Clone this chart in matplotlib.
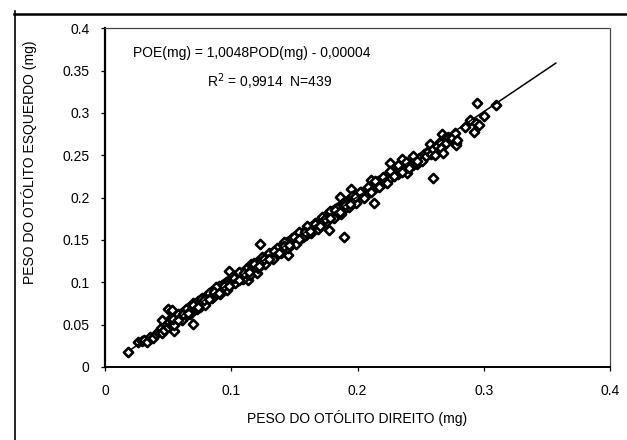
import numpy as np
import matplotlib
matplotlib.use("Agg")
import matplotlib.pyplot as plt
from matplotlib.lines import Line2D
from matplotlib.ticker import FuncFormatter

plt.rcParams['font.family'] = ['Liberation Sans', 'DejaVu Sans']

# === Data (right otolith weight, left otolith weight) ===
pod_low = [0.018, 0.026, 0.029, 0.031, 0.033, 0.036, 0.038, 0.040, 0.042, 0.044,
           0.045, 0.045, 0.047, 0.048, 0.050, 0.050, 0.053]
poe_low = [0.018, 0.030, 0.031, 0.032, 0.030, 0.035, 0.034, 0.039, 0.041, 0.046,
           0.055, 0.040, 0.044, 0.050, 0.069, 0.047, 0.067]

pod_b = [0.051, 0.052, 0.053, 0.054, 0.055, 0.055, 0.056, 0.057, 0.058, 0.059,
         0.060, 0.060, 0.061, 0.062, 0.063, 0.063, 0.064, 0.065, 0.066, 0.066,
         0.067, 0.068, 0.069, 0.070, 0.070, 0.071, 0.072, 0.072, 0.073, 0.074,
         0.075, 0.075, 0.076, 0.077, 0.078, 0.078, 0.079, 0.080, 0.080, 0.081,
         0.082, 0.083, 0.084, 0.084, 0.085, 0.086, 0.087, 0.088, 0.088, 0.089,
         0.090, 0.090, 0.091, 0.092, 0.093, 0.094, 0.094, 0.095, 0.096, 0.097,
         0.098, 0.098, 0.099, 0.100]
poe_b = [0.053, 0.049, 0.057, 0.052, 0.043, 0.058, 0.054, 0.060, 0.055, 0.062,
         0.058, 0.063, 0.057, 0.065, 0.060, 0.066, 0.062, 0.068, 0.063, 0.070,
         0.065, 0.071, 0.066, 0.051, 0.073, 0.068, 0.076, 0.070, 0.072, 0.078,
         0.071, 0.079, 0.074, 0.081, 0.075, 0.082, 0.077, 0.084, 0.078, 0.080,
         0.086, 0.081, 0.088, 0.083, 0.090, 0.084, 0.091, 0.086, 0.093, 0.088,
         0.095, 0.089, 0.093, 0.090, 0.097, 0.092, 0.098, 0.094, 0.100, 0.095,
         0.113, 0.101, 0.097, 0.103]

pod_c = [0.101, 0.102, 0.103, 0.104, 0.105, 0.106, 0.107, 0.108, 0.109, 0.110,
         0.111, 0.112, 0.113, 0.113, 0.114, 0.115, 0.116, 0.117, 0.118, 0.119,
         0.120, 0.120, 0.121, 0.122, 0.123, 0.123, 0.124, 0.125, 0.126, 0.127,
         0.128, 0.129, 0.130, 0.131, 0.132, 0.133, 0.134, 0.135, 0.136, 0.137,
         0.138, 0.139, 0.140, 0.141, 0.142, 0.143, 0.144, 0.145, 0.145, 0.146,
         0.147, 0.148, 0.149, 0.150, 0.151, 0.152, 0.153, 0.154, 0.155, 0.156,
         0.157, 0.158, 0.159, 0.160, 0.161, 0.162, 0.163, 0.164, 0.165, 0.166,
         0.167, 0.168, 0.169, 0.170, 0.171, 0.172, 0.173, 0.174, 0.175, 0.176,
         0.177, 0.177, 0.178, 0.179, 0.180, 0.181, 0.182, 0.183, 0.184, 0.185,
         0.186, 0.186, 0.187, 0.188, 0.189, 0.189, 0.190, 0.191, 0.192, 0.193,
         0.194, 0.195, 0.195, 0.196, 0.197, 0.198, 0.199, 0.200]
poe_c = [0.099, 0.105, 0.101, 0.107, 0.103, 0.108, 0.104, 0.111, 0.106, 0.112,
         0.108, 0.116, 0.103, 0.111, 0.118, 0.113, 0.122, 0.115, 0.120, 0.117,
         0.111, 0.124, 0.119, 0.125, 0.145, 0.121, 0.127, 0.123, 0.129, 0.125,
         0.131, 0.127, 0.133, 0.129, 0.135, 0.131, 0.137, 0.133, 0.138, 0.135,
         0.140, 0.137, 0.143, 0.139, 0.144, 0.141, 0.147, 0.132, 0.144, 0.149,
         0.145, 0.150, 0.147, 0.153, 0.149, 0.154, 0.151, 0.157, 0.152, 0.158,
         0.155, 0.160, 0.156, 0.162, 0.159, 0.164, 0.160, 0.166, 0.163, 0.168,
         0.164, 0.170, 0.166, 0.173, 0.168, 0.175, 0.170, 0.177, 0.172, 0.180,
         0.162, 0.175, 0.182, 0.177, 0.184, 0.179, 0.186, 0.181, 0.188, 0.183,
         0.201, 0.190, 0.185, 0.192, 0.153, 0.187, 0.193, 0.189, 0.196, 0.191,
         0.197, 0.210, 0.193, 0.199, 0.195, 0.201, 0.197, 0.203]

pod_d = [0.202, 0.203, 0.205, 0.206, 0.207, 0.209, 0.210, 0.211, 0.212, 0.213,
         0.213, 0.215, 0.216, 0.217, 0.219, 0.220, 0.221, 0.222, 0.224, 0.226,
         0.226, 0.227, 0.229, 0.230, 0.232, 0.233, 0.235, 0.235, 0.236, 0.238,
         0.239, 0.240, 0.241, 0.243, 0.244, 0.246, 0.247, 0.249, 0.251, 0.253,
         0.254, 0.256, 0.257, 0.258, 0.260, 0.260, 0.261, 0.263, 0.265, 0.266,
         0.267, 0.268, 0.269, 0.270, 0.272, 0.274, 0.275, 0.277, 0.278, 0.278,
         0.279]
poe_d = [0.199, 0.206, 0.202, 0.208, 0.205, 0.211, 0.207, 0.221, 0.210, 0.194,
         0.215, 0.212, 0.219, 0.214, 0.221, 0.217, 0.224, 0.219, 0.226, 0.241,
         0.223, 0.228, 0.226, 0.231, 0.228, 0.234, 0.245, 0.231, 0.237, 0.234,
         0.229, 0.240, 0.236, 0.242, 0.238, 0.244, 0.240, 0.247, 0.243, 0.251,
         0.249, 0.255, 0.263, 0.252, 0.223, 0.257, 0.250, 0.261, 0.266, 0.259,
         0.275, 0.253, 0.270, 0.265, 0.272, 0.268, 0.270, 0.276, 0.265, 0.262,
         0.268]

pod_high = [0.285, 0.289, 0.292, 0.294, 0.295, 0.296, 0.300, 0.310]
poe_high = [0.283, 0.292, 0.277, 0.288, 0.312, 0.286, 0.296, 0.309]

# edges of the dense band
pod_edge = [0.052, 0.055, 0.058, 0.061, 0.064, 0.067, 0.070, 0.073, 0.076, 0.079,
            0.082, 0.085, 0.088, 0.091, 0.094, 0.097, 0.100, 0.103, 0.106, 0.109,
            0.112, 0.115, 0.118, 0.121, 0.124, 0.127, 0.130, 0.133, 0.136, 0.139,
            0.142, 0.145, 0.148, 0.151, 0.154, 0.157, 0.160, 0.163, 0.166, 0.169,
            0.172, 0.175, 0.178, 0.181, 0.184, 0.187, 0.190, 0.193, 0.196, 0.199,
            0.202, 0.205, 0.208, 0.211, 0.214, 0.217, 0.220, 0.223, 0.226, 0.229,
            0.232, 0.235, 0.238, 0.241, 0.244, 0.247]
poe_edge = [0.058, 0.050, 0.062, 0.055, 0.069, 0.063, 0.076, 0.068, 0.080, 0.073,
            0.087, 0.081, 0.094, 0.086, 0.098, 0.091, 0.105, 0.099, 0.112, 0.104,
            0.116, 0.109, 0.123, 0.117, 0.130, 0.122, 0.134, 0.127, 0.141, 0.135,
            0.148, 0.140, 0.152, 0.145, 0.159, 0.153, 0.166, 0.158, 0.170, 0.163,
            0.177, 0.171, 0.184, 0.176, 0.188, 0.181, 0.195, 0.189, 0.202, 0.194,
            0.206, 0.199, 0.213, 0.207, 0.220, 0.212, 0.224, 0.217, 0.231, 0.225,
            0.238, 0.230, 0.242, 0.235, 0.249, 0.243]

pod_fill = [0.054, 0.058, 0.062, 0.066, 0.070, 0.074, 0.078, 0.082, 0.086, 0.090,
            0.094, 0.098, 0.102, 0.106, 0.110, 0.114, 0.118, 0.122, 0.126, 0.130,
            0.134, 0.138, 0.142, 0.146, 0.150, 0.154, 0.158, 0.162, 0.166, 0.170,
            0.174, 0.178, 0.182, 0.186, 0.190, 0.194, 0.198]
poe_fill = [0.057, 0.055, 0.063, 0.064, 0.073, 0.071, 0.079, 0.080, 0.089, 0.087,
            0.095, 0.096, 0.105, 0.103, 0.111, 0.112, 0.121, 0.119, 0.127, 0.128,
            0.137, 0.135, 0.143, 0.144, 0.153, 0.151, 0.159, 0.160, 0.169, 0.167,
            0.175, 0.176, 0.185, 0.183, 0.191, 0.192, 0.201]

pod = np.array(pod_low + pod_b + pod_c + pod_d + pod_high + pod_edge + pod_fill)
poe = np.array(poe_low + poe_b + poe_c + poe_d + poe_high + poe_edge + poe_fill)

# regression printed on the chart
slope, intercept = 1.0048, -0.00004
line_x = np.array([0.02, 0.357])

# === Figure ===
fig = plt.figure(figsize=(6.27, 4.40), dpi=100)
ax = fig.add_axes([0.1675, 0.166, 0.8055, 0.770])

ax.scatter(pod, poe, marker='D', s=22, facecolors='white', edgecolors='black',
           linewidths=1.9, zorder=3)
ax.plot(line_x, slope * line_x + intercept, color='black', lw=1.1, zorder=4)

ax.set_xlim(0, 0.4)
ax.set_ylim(0, 0.4)
ax.set_xticks([0, 0.1, 0.2, 0.3, 0.4])
ax.set_yticks(np.arange(0, 0.401, 0.05))
fmt = FuncFormatter(lambda v, p: '0' if abs(v) < 1e-9 else f'{v:.2f}'.rstrip('0'))
ax.xaxis.set_major_formatter(fmt)
ax.yaxis.set_major_formatter(fmt)
ax.tick_params(axis='both', direction='out', length=3, width=0.9, labelsize=10,
               color='black')
ax.tick_params(axis='y', pad=8)
ax.tick_params(axis='x', pad=9)

ax.spines['left'].set_linewidth(1.6)
ax.spines['bottom'].set_linewidth(1.4)
for side in ['top', 'right']:
    ax.spines[side].set_linestyle((0, (1, 1)))
    ax.spines[side].set_linewidth(0.9)
    ax.spines[side].set_color('#444444')

ax.text(0.055, 0.926, 'POE(mg) = 1,0048POD(mg) - 0,00004', transform=ax.transAxes,
        fontsize=10, ha='left', va='center')
ax.text(0.202, 0.841, 'R$^2$ = 0,9914  N=439', transform=ax.transAxes,
        fontsize=10, ha='left', va='center')

fig.text(0.046, 0.632, 'PESO DO OTÓLITO ESQUERDO (mg)', rotation=90,
         fontsize=10, ha='center', va='center')
fig.text(0.569, 0.05, 'PESO DO OTÓLITO DIREITO (mg)', fontsize=10,
         ha='center', va='center')

# outer chart frame (top and left edges visible in the scan)
fig.add_artist(Line2D([0.022, 1.0], [0.968, 0.968], transform=fig.transFigure,
                      color='black', lw=1.8))
fig.add_artist(Line2D([0.024, 0.024], [0.0, 0.975], transform=fig.transFigure,
                      color='black', lw=1.2))

fig.savefig('out.png', dpi=100)
